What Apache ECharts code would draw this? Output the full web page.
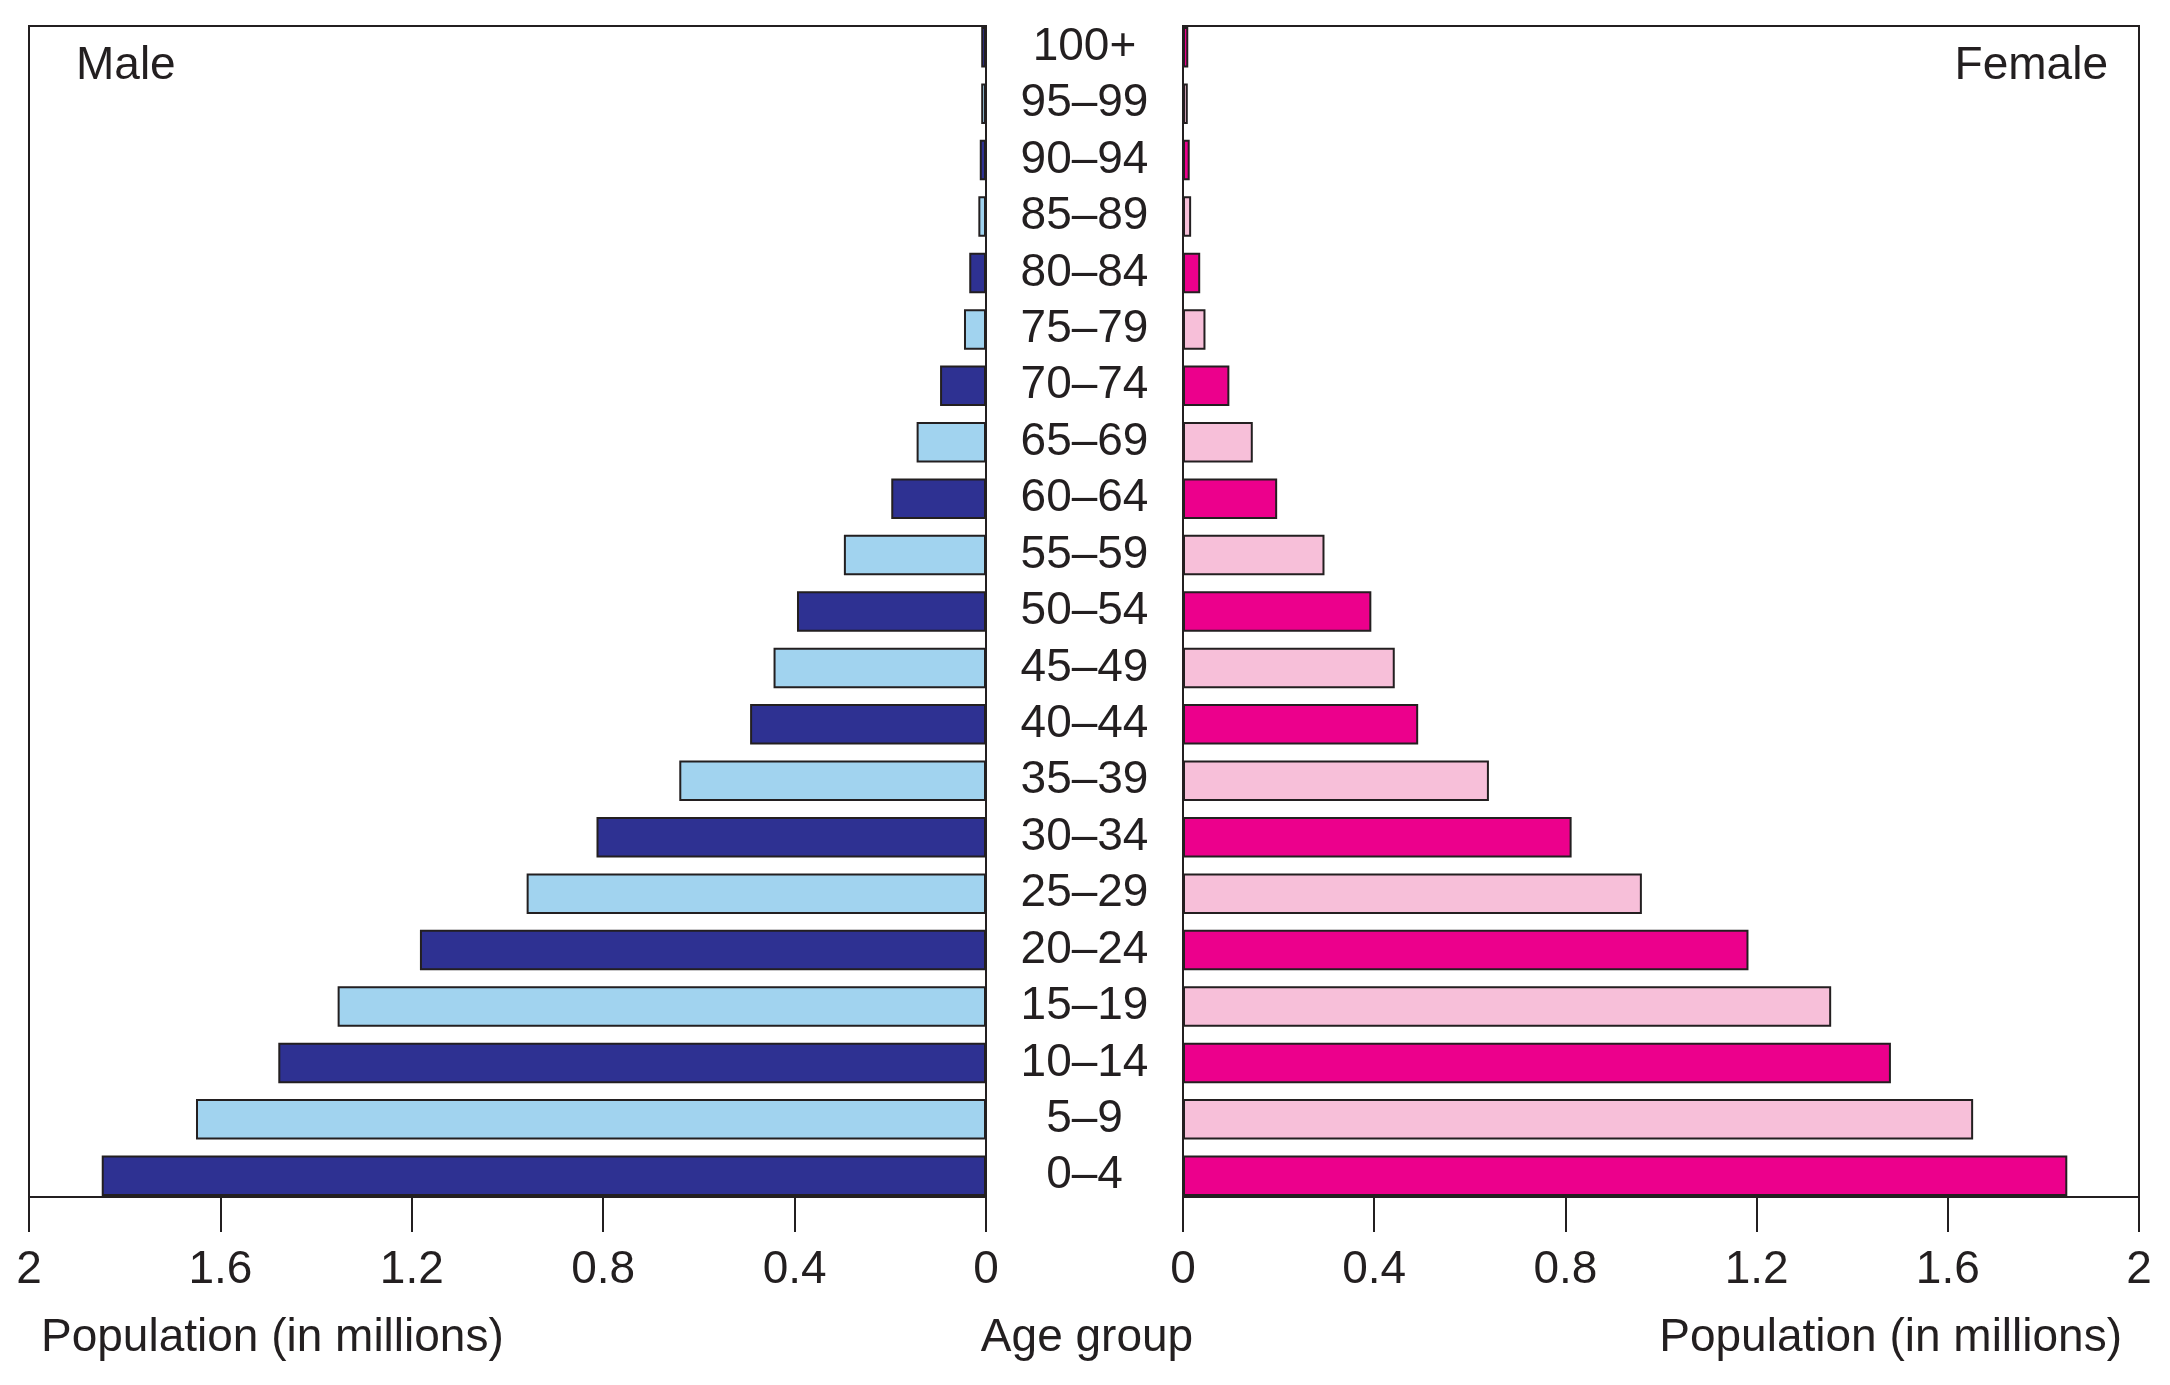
<!DOCTYPE html>
<html>
<head>
<meta charset="utf-8">
<script src="https://cdn.jsdelivr.net/npm/echarts@6/dist/echarts.min.js"></script>
<style>
html,body{margin:0;padding:0;background:#ffffff;}
#c{width:2170px;height:1385px;}
</style>
</head>
<body>
<div id="c"></div>
<script>
// ---------------- DATA ----------------
const AGE_GROUPS = ['0–4','5–9','10–14','15–19','20–24','25–29','30–34','35–39','40–44','45–49',
  '50–54','55–59','60–64','65–69','70–74','75–79','80–84','85–89','90–94','95–99','100+'];
const MALE = [1.848, 1.651, 1.479, 1.355, 1.183, 0.960, 0.814, 0.641, 0.493, 0.444,
  0.395, 0.297, 0.198, 0.145, 0.096, 0.046, 0.035, 0.016, 0.013, 0.010, 0.010];
const FEMALE = [1.850, 1.653, 1.481, 1.356, 1.183, 0.960, 0.813, 0.640, 0.492, 0.443,
  0.394, 0.296, 0.197, 0.146, 0.097, 0.047, 0.036, 0.017, 0.014, 0.010, 0.011];
const X_TICKS = [0, 0.4, 0.8, 1.2, 1.6, 2];
const LABEL_MALE = 'Male';
const LABEL_FEMALE = 'Female';
const X_TITLE = 'Population (in millions)';
const Y_TITLE = 'Age group';

// ---------------- STYLE / LAYOUT ----------------
const INK = '#231f20';
const FONT = '"Liberation Sans", Arial, Helvetica, sans-serif';
const FS = 46;
const MALE_DARK = '#2e3192', MALE_LIGHT = '#a1d3ef';
const FEMALE_DARK = '#ec008c', FEMALE_LIGHT = '#f7bfd9';

const BOX_TOP = 26, BOX_BOTTOM = 1197;
const L_LEFT = 29, L_RIGHT = 986, R_LEFT = 1183, R_RIGHT = 2139;
const BAR_H = 42.5;
const N = AGE_GROUPS.length;
const GAP = (BOX_BOTTOM - BOX_TOP - N * BAR_H) / (N - 1);
const PITCH = BAR_H + GAP;
const GRID_TOP = BOX_TOP - GAP / 2;
const GRID_H = PITCH * N;
const AX_OFF = -GAP / 2;

const xMin = X_TICKS[0], xMax = X_TICKS[X_TICKS.length - 1], xInt = X_TICKS[1] - X_TICKS[0];

function valueAxis(gridIndex, inverse) {
  return {
    gridIndex: gridIndex, type: 'value', min: xMin, max: xMax, interval: xInt,
    inverse: inverse, position: 'bottom', offset: AX_OFF,
    axisLine: {show: true, onZero: false, lineStyle: {color: INK, width: 2}},
    axisTick: {show: true, length: 35, lineStyle: {color: INK, width: 2}},
    axisLabel: {show: true, margin: 50, color: INK, fontSize: FS, fontFamily: FONT,
      showMinLabel: true, showMaxLabel: true, hideOverlap: false,
      formatter: function (v) { return String(+(+v).toFixed(1)); }},
    splitLine: {show: false}
  };
}

const chart = echarts.init(document.getElementById('c'), null, {renderer: 'canvas'});
chart.setOption({
  animation: false,
  backgroundColor: '#ffffff',
  grid: [
    {left: L_LEFT, top: GRID_TOP, width: L_RIGHT - L_LEFT, height: GRID_H, containLabel: false, outerBoundsMode: 'none'},
    {left: R_LEFT, top: GRID_TOP, width: R_RIGHT - R_LEFT, height: GRID_H, containLabel: false, outerBoundsMode: 'none'}
  ],
  xAxis: [valueAxis(0, true), valueAxis(1, false)],
  yAxis: [
    {gridIndex: 0, type: 'category', data: AGE_GROUPS, position: 'right',
      axisLine: {show: false}, axisTick: {show: false}, splitLine: {show: false},
      axisLabel: {show: true, interval: 0, margin: (R_LEFT - L_RIGHT) / 2, align: 'center',
        padding: [7, 0, 0, 0],
        color: INK, fontSize: FS, fontFamily: FONT}},
    {gridIndex: 1, type: 'category', data: AGE_GROUPS, position: 'left',
      axisLine: {show: false}, axisTick: {show: false}, splitLine: {show: false},
      axisLabel: {show: false}}
  ],
  series: [
    {type: 'bar', xAxisIndex: 0, yAxisIndex: 0, barWidth: BAR_H - 2,
      data: MALE.map(function (v, i) { return {value: v, itemStyle: {color: i % 2 ? MALE_LIGHT : MALE_DARK}}; }),
      itemStyle: {borderColor: INK, borderWidth: 2}},
    {type: 'bar', xAxisIndex: 1, yAxisIndex: 1, barWidth: BAR_H - 2,
      data: FEMALE.map(function (v, i) { return {value: v, itemStyle: {color: i % 2 ? FEMALE_LIGHT : FEMALE_DARK}}; }),
      itemStyle: {borderColor: INK, borderWidth: 2}}
  ],
  graphic: [
    {type: 'rect', z: 0, silent: true, shape: {x: L_LEFT, y: BOX_TOP, width: L_RIGHT - L_LEFT, height: BOX_BOTTOM - BOX_TOP},
      style: {fill: null, stroke: INK, lineWidth: 2}},
    {type: 'rect', z: 0, silent: true, shape: {x: R_LEFT, y: BOX_TOP, width: R_RIGHT - R_LEFT, height: BOX_BOTTOM - BOX_TOP},
      style: {fill: null, stroke: INK, lineWidth: 2}},
    {type: 'text', x: 76, y: 66, style: {text: LABEL_MALE, font: FS + 'px ' + FONT, fill: INK, textAlign: 'left', textVerticalAlign: 'middle'}},
    {type: 'text', x: 2108, y: 66, style: {text: LABEL_FEMALE, font: FS + 'px ' + FONT, fill: INK, textAlign: 'right', textVerticalAlign: 'middle'}},
    {type: 'text', x: 41, y: 1338, style: {text: X_TITLE, font: FS + 'px ' + FONT, fill: INK, textAlign: 'left', textVerticalAlign: 'middle'}},
    {type: 'text', x: 2122, y: 1338, style: {text: X_TITLE, font: FS + 'px ' + FONT, fill: INK, textAlign: 'right', textVerticalAlign: 'middle'}},
    {type: 'text', x: 1087, y: 1338, style: {text: Y_TITLE, font: FS + 'px ' + FONT, fill: INK, textAlign: 'center', textVerticalAlign: 'middle'}}
  ]
});
</script>
</body>
</html>
